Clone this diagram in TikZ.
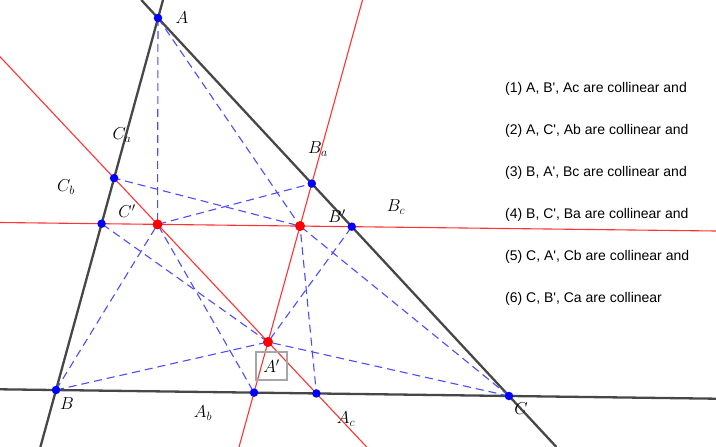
\documentclass[tikz,border=0pt]{standalone}
\usepackage{fontspec}
\newfontfamily\txtfont{Liberation Sans}
\begin{document}
\begin{tikzpicture}[x=1pt,y=-1pt,
  triline/.style={draw=black!72,line width=2.3pt},
  redline/.style={draw=red!80!white,line width=1.1pt},
  dashline/.style={draw=blue!70!white,line width=1.1pt,dash pattern=on 8pt off 5pt},
  bluept/.style={circle,fill=blue,inner sep=0pt,minimum size=8.5pt},
  redpt/.style={circle,fill=red,inner sep=0pt,minimum size=10pt},
  lab/.style={font=\fontsize{17}{20}\selectfont,inner sep=1pt},
  note/.style={font=\txtfont\fontsize{14}{16}\selectfont,anchor=west,inner sep=0pt}]
\useasboundingbox (0,0) rectangle (716,447);
% triangle vertices
\coordinate (A) at (158,18);
\coordinate (B) at (56,390);
\coordinate (C) at (509,396);
% triangle side ends
\coordinate (ABt) at (163,0);
\coordinate (ABb) at (40.4,447);
\coordinate (ACt) at (141.3,0);
\coordinate (ACb) at (556.4,447);
\coordinate (BCl) at (0,389.3);
\coordinate (BCr) at (716,398.7);
% red lines ends
\coordinate (La) at (0,222.5);
\coordinate (Lb) at (716,231);
\coordinate (Ma) at (0,56.7);
\coordinate (Mb) at (366.7,447);
\coordinate (Na) at (362.5,0);
\coordinate (Nb) at (239,447);
% derived points
\coordinate (Cp) at (intersection of La--Lb and Ma--Mb);
\coordinate (Bp) at (intersection of La--Lb and Na--Nb);
\coordinate (Ap) at (intersection of Ma--Mb and Na--Nb);
\coordinate (Ca) at (intersection of A--B and Ma--Mb);
\coordinate (Cb) at (intersection of A--B and La--Lb);
\coordinate (Ba) at (intersection of A--C and Na--Nb);
\coordinate (Bc) at (intersection of A--C and La--Lb);
\coordinate (Ab) at (intersection of B--C and Na--Nb);
\coordinate (Ac) at (intersection of B--C and Ma--Mb);
% red lines
\draw[redline] (La) -- (Lb);
\draw[redline] (Ma) -- (Mb);
\draw[redline] (Na) -- (Nb);
% triangle lines
\draw[triline] (ABt) -- (ABb);
\draw[triline] (ACt) -- (ACb);
\draw[triline] (BCl) -- (BCr);
% dashed polylines
\draw[dashline] (A) -- (Bp) -- (Ac);
\draw[dashline] (A) -- (Cp) -- (Ab);
\draw[dashline] (B) -- (Ap) -- (Bc);
\draw[dashline] (B) -- (Cp) -- (Ba);
\draw[dashline] (C) -- (Ap) -- (Cb);
\draw[dashline] (C) -- (Bp) -- (Ca);
% points
\foreach \p in {A,B,C,Ca,Cb,Ba,Bc,Ab,Ac} \node[bluept] (\p pt) at (\p) {};
\foreach \p in {Ap,Bp,Cp} \node[redpt] (\p pt) at (\p) {};
% labels
\node[lab] (lA) at (182,18) {$A$};
\node[lab] (lB) at (67,404) {$B$};
\node[lab] (lC) at (521,409) {$C$};
\node[lab] (lCa) at (122,135) {$C_a$};
\node[lab] (lCb) at (66,187) {$C_b$};
\node[lab] (lCp) at (127,211) {$C'$};
\node[lab] (lBa) at (318,149) {$B_a$};
\node[lab] (lBp) at (337,216) {$B'$};
\node[lab] (lBc) at (396,207) {$B_c$};
\node[lab] (lAb) at (203,413) {$A_b$};
\node[lab] (lAc) at (346,419) {$A_c$};
\node[lab,draw=black!35,line width=1.2pt,minimum width=31pt,minimum height=28pt] (lAp) at (271.5,366) {$A'$};
% notes
\node[note] (t1) at (505,89) {(1) A, B', Ac are collinear and};
\node[note] (t2) at (505,131) {(2) A, C', Ab are collinear and};
\node[note] (t3) at (505,173) {(3) B, A', Bc are collinear and};
\node[note] (t4) at (505,215) {(4) B, C', Ba are collinear and};
\node[note] (t5) at (505,257) {(5) C, A', Cb are collinear and};
\node[note] (t6) at (505,299) {(6) C, B', Ca are collinear};
\end{tikzpicture}
\end{document}
